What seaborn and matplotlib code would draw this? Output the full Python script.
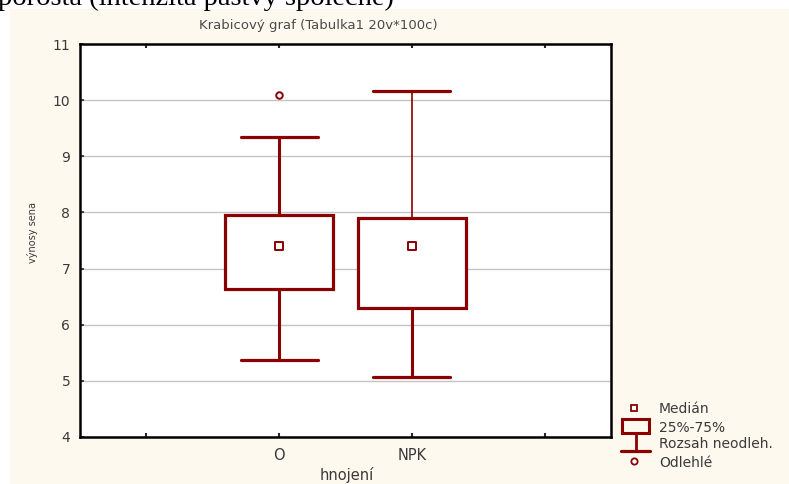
import matplotlib
matplotlib.use("Agg")
import matplotlib.pyplot as plt
import seaborn as sns
import pandas as pd
from matplotlib.patches import Rectangle

# Box plot statistics (výnosy sena by hnojení)
groups = ["O", "NPK"]
medians = [7.40, 7.41]
q1 = [6.64, 6.30]
q3 = [7.95, 7.90]
whisker_low = [5.37, 5.07]
whisker_high = [9.34, 10.16]
outliers = [[10.10], []]

RED = "#8b0000"
CREAM = "#fdf9ef"
TXT = "#3a3a3a"

sns.set_theme(style="white")
plt.rcParams["font.family"] = ["DejaVu Sans"]

fig = plt.figure(figsize=(7.89, 4.84), dpi=100)
fig.patch.set_facecolor("white")
fig.patches.append(Rectangle((10 / 789, 0), 1, 1 - 9 / 484, transform=fig.transFigure,
                             facecolor=CREAM, edgecolor="none", zorder=-10))
# cut-off line of document text above the chart
fig.text(-2 / 789, 1 - 5 / 484, "porosta (intenzita pastvy společně)", family="Liberation Serif",
         fontsize=20.5, color="black", va="baseline", ha="left")

ax = fig.add_axes([80 / 789, 47 / 484, 531 / 789, 393 / 484])
ax.set_facecolor("white")

stats = []
for i, g in enumerate(groups):
    stats.append(dict(label=g, med=medians[i], q1=q1[i], q3=q3[i],
                      whislo=whisker_low[i], whishi=whisker_high[i], fliers=[]))

art = ax.bxp(stats, positions=range(len(groups)), widths=0.81, capwidths=0.58,
             showfliers=False, patch_artist=True,
             boxprops=dict(facecolor="white", edgecolor=RED, linewidth=2.3),
             whiskerprops=dict(color=RED, linewidth=2.2),
             capprops=dict(color=RED, linewidth=2.3),
             medianprops=dict(linewidth=0))
whisker_lw = [2.2, 1.2]
for i, lw in enumerate(whisker_lw):
    art["whiskers"][2 * i + 1].set_linewidth(lw)

# median points and outliers through seaborn
med_df = pd.DataFrame({"pos": range(len(groups)), "val": medians})
sns.scatterplot(data=med_df, x="pos", y="val", marker="s", s=28, facecolor="white",
                edgecolor=RED, linewidth=1.4, ax=ax, zorder=5)
out_df = pd.DataFrame([(i, v) for i, vals in enumerate(outliers) for v in vals], columns=["pos", "val"])
sns.scatterplot(data=out_df, x="pos", y="val", marker="o", s=22, facecolor="white",
                edgecolor=RED, linewidth=1.4, ax=ax, zorder=5)

ax.set_xlim(-1.5, 2.5)
ax.set_ylim(4, 11)
ax.set_xticks([-1, 0, 1, 2])
ax.set_xticklabels([""] + groups + [""])
ax.set_yticks(range(4, 12))
ax.yaxis.grid(True, color="#c4c4c4", linewidth=1)
ax.set_axisbelow(True)
ax.tick_params(axis="x", direction="in", length=3, width=1.5, top=True, bottom=True,
               labelsize=10.5, labelcolor=TXT, pad=8)
ax.tick_params(axis="y", direction="in", length=3, width=1.2, left=True,
               labelsize=10, labelcolor=TXT, pad=7)
for sp in ax.spines.values():
    sp.set_color("black")
    sp.set_linewidth(1.8)

ax.set_xlabel("hnojení", fontsize=10.5, color=TXT)
ax.xaxis.set_label_coords(0.502, -0.11)
ax.xaxis.label.set_va("baseline")
ax.set_ylabel("výnosy sena", fontsize=7, color=TXT)
ax.yaxis.set_label_coords(-0.079, 0.52)
ax.set_title("Krabicový graf (Tabulka1 20v*100c)", fontsize=9.5, color="#4a4a4a",
             x=0.448, pad=11)

# legend drawn in a pixel-space inset
lax = fig.add_axes([610 / 789, 0, 179 / 789, 100 / 484])
lax.set_xlim(610, 789)
lax.set_ylim(484, 384)
lax.axis("off")
lax.plot([634], [408], marker="s", ms=5, mfc="white", mec=RED, mew=1.3)
lax.add_patch(Rectangle((622, 418.5), 27, 14.5, facecolor="none", edgecolor=RED, linewidth=2.2))
lax.plot([635.5, 635.5], [433, 451], color=RED, linewidth=2)
lax.plot([621, 650], [451, 451], color=RED, linewidth=2.3)
lax.plot([634], [461], marker="o", ms=4.5, mfc="white", mec=RED, mew=1.3)
legend_labels = ["Medián", "25%-75%", "Rozsah neodleh.", "Odlehlé"]
legend_y = [409, 428, 444, 463]
for lab, y in zip(legend_labels, legend_y):
    lax.text(659, y, lab, fontsize=10, color=TXT, va="center", ha="left")

fig.savefig("out.png", dpi=100)
